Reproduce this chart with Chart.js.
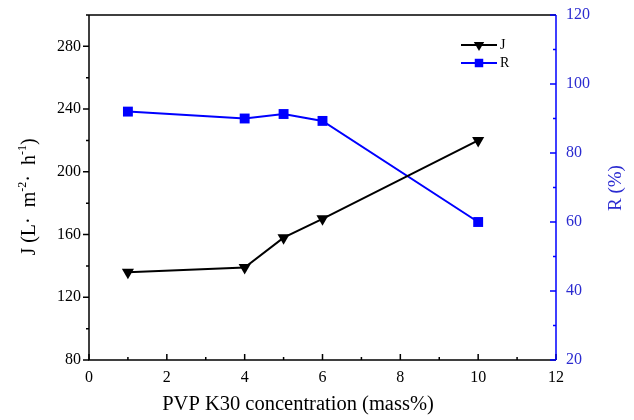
<!DOCTYPE html>
<html>
<head>
<meta charset="utf-8">
<script src="https://cdn.jsdelivr.net/npm/chart.js@4/dist/chart.umd.min.js"></script>
<style>
  html, body { margin: 0; padding: 0; background: #fff; }
  #wrap { width: 634px; height: 420px; }
</style>
</head>
<body>
<div id="wrap"><canvas id="chart"></canvas></div>
<script>
// data
const concentration = [1, 4, 5, 6, 10];
const fluxJ = [136, 139, 158, 170, 220];
const rejectionR = [92, 90, 91.3, 89.3, 60];

const FONT = "'Liberation Serif', 'Times New Roman', serif";
const BLUE = "#0000ff";
const LABEL_BLUE = "#2b2bd0";

// draws frame, major/minor ticks, titles and the inner legend
const decorPlugin = {
  id: "decor",
  afterDraw(chart) {
    const ctx = chart.ctx;
    const a = chart.chartArea;
    const x = chart.scales.x, y = chart.scales.y, y1 = chart.scales.y1;
    ctx.save();
    ctx.lineWidth = 1.5;

    // frame: left, bottom, top in black
    ctx.strokeStyle = "#000";
    ctx.beginPath();
    ctx.moveTo(a.left, a.top); ctx.lineTo(a.left, a.bottom);
    ctx.lineTo(a.right, a.bottom);
    ctx.moveTo(a.left, a.top); ctx.lineTo(a.right, a.top);
    ctx.stroke();

    // x ticks (inward)
    ctx.beginPath();
    for (let v = 0; v <= 12; v++) {
      const px = x.getPixelForValue(v);
      const len = v % 2 === 0 ? 6 : 3;
      ctx.moveTo(px, a.bottom); ctx.lineTo(px, a.bottom - len);
    }
    // left y ticks (outward)
    for (let v = 80; v <= 300; v += 20) {
      const py = y.getPixelForValue(v);
      const len = v % 40 === 0 ? 6 : 3;
      ctx.moveTo(a.left, py); ctx.lineTo(a.left - len, py);
    }
    ctx.stroke();

    // right axis in blue (inward ticks)
    ctx.strokeStyle = BLUE;
    ctx.beginPath();
    ctx.moveTo(a.right, a.top); ctx.lineTo(a.right, a.bottom);
    for (let v = 20; v <= 120; v += 10) {
      const py = y1.getPixelForValue(v);
      const len = v % 20 === 0 ? 6 : 3;
      ctx.moveTo(a.right, py); ctx.lineTo(a.right - len, py);
    }
    ctx.stroke();
    ctx.restore();

    // x title
    ctx.save();
    ctx.fillStyle = "#000";
    ctx.font = "20.5px " + FONT;
    ctx.textAlign = "center";
    ctx.textBaseline = "middle";
    ctx.fillText("PVP K30 concentration (mass%)", 298, 405);
    ctx.restore();

    // right title, reading bottom to top
    ctx.save();
    ctx.fillStyle = LABEL_BLUE;
    ctx.font = "19px " + FONT;
    ctx.textAlign = "center";
    ctx.textBaseline = "middle";
    ctx.translate(616, 188);
    ctx.rotate(-Math.PI / 2);
    ctx.fillText("R (%)", 0, 0);
    ctx.restore();

    // left title with superscripts
    ctx.save();
    ctx.fillStyle = "#000";
    ctx.textBaseline = "alphabetic";
    const parts = [
      ["J (L·  m", false], ["-2", true], ["·  h", false], ["-1", true], [")", false]
    ];
    const big = "20px " + FONT, small = "12px " + FONT;
    let total = 0;
    parts.forEach(p => { ctx.font = p[1] ? small : big; total += ctx.measureText(p[0]).width; });
    ctx.translate(35, 197);
    ctx.rotate(-Math.PI / 2);
    let cx = -total / 2;
    parts.forEach(p => {
      ctx.font = p[1] ? small : big;
      ctx.fillText(p[0], cx, p[1] ? -9 : 0);
      cx += ctx.measureText(p[0]).width;
    });
    ctx.restore();

    // legend inside the plot
    ctx.save();
    const items = [
      { label: "J", color: "#000", style: "triangle", rot: 180, r: 6 },
      { label: "R", color: BLUE, style: "rect", rot: 0, r: 6 }
    ];
    items.forEach((it, i) => {
      const ly = 45 + i * 18;
      ctx.strokeStyle = it.color;
      ctx.lineWidth = 2;
      ctx.beginPath();
      ctx.moveTo(461, ly); ctx.lineTo(497, ly);
      ctx.stroke();
      ctx.fillStyle = it.color;
      Chart.helpers.drawPoint(ctx, { pointStyle: it.style, rotation: it.rot, radius: it.r, borderWidth: 0 }, 479, ly);
      ctx.fillStyle = "#000";
      ctx.font = "14px " + FONT;
      ctx.textAlign = "left";
      ctx.textBaseline = "middle";
      ctx.fillText(it.label, 500, ly);
    });
    ctx.restore();
  }
};

function fixVertical(s, width) {
  s.width = width;
  s.paddingTop = 0;
  s.paddingBottom = 0;
}

new Chart(document.getElementById("chart"), {
  type: "line",
  data: {
    datasets: [
      {
        label: "J",
        data: concentration.map((c, i) => ({ x: c, y: fluxJ[i] })),
        yAxisID: "y",
        borderColor: "#000",
        backgroundColor: "#000",
        borderWidth: 2,
        pointStyle: "triangle",
        rotation: 180,
        pointRadius: 7,
        pointBorderWidth: 0
      },
      {
        label: "R",
        data: concentration.map((c, i) => ({ x: c, y: rejectionR[i] })),
        yAxisID: "y1",
        borderColor: BLUE,
        backgroundColor: BLUE,
        borderWidth: 2,
        pointStyle: "rect",
        pointRadius: 7,
        pointBorderWidth: 0
      }
    ]
  },
  options: {
    responsive: true,
    maintainAspectRatio: false,
    animation: false,
    layout: { padding: { top: 15, left: 0, right: 0, bottom: 0 } },
    plugins: { legend: { display: false }, tooltip: { enabled: false } },
    scales: {
      x: {
        type: "linear",
        min: 0, max: 12,
        grid: { display: false, drawTicks: false },
        border: { display: false },
        ticks: { stepSize: 2, color: "#000", font: { family: FONT, size: 16 }, padding: 8, maxRotation: 0 },
        afterFit(s) { s.height = 60; s.paddingLeft = 0; s.paddingRight = 0; }
      },
      y: {
        position: "left",
        min: 80, max: 300,
        grid: { display: false, drawTicks: false },
        border: { display: false },
        ticks: { color: "#000", font: { family: FONT, size: 16 }, padding: 8 },
        afterBuildTicks(s) { s.ticks = [80, 120, 160, 200, 240, 280].map(v => ({ value: v })); },
        afterFit(s) { fixVertical(s, 89); }
      },
      y1: {
        position: "right",
        min: 20, max: 120,
        grid: { display: false, drawTicks: false },
        border: { display: false },
        ticks: { stepSize: 20, color: LABEL_BLUE, font: { family: FONT, size: 16 }, padding: 10 },
        afterFit(s) { fixVertical(s, 78); }
      }
    }
  },
  plugins: [decorPlugin]
});
</script>
</body>
</html>
